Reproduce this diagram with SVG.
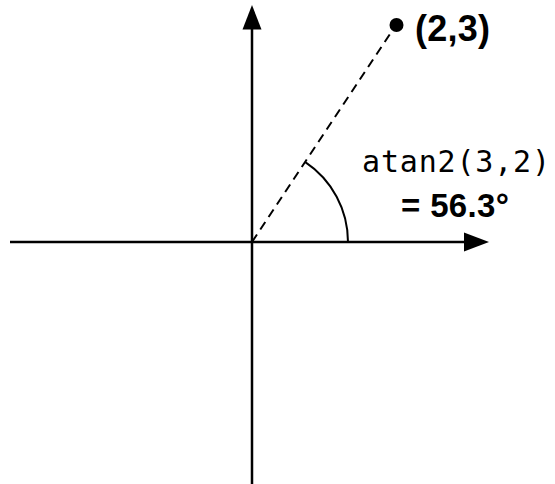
<svg xmlns="http://www.w3.org/2000/svg" width="555" height="484" viewBox="0 0 555 484">
<style>
.axis{stroke:#000;stroke-width:2.5;fill:none}
.ray{stroke:#000;stroke-width:2;stroke-dasharray:9 6;fill:none}
.arc{stroke:#000;stroke-width:2;fill:none}
.head{fill:#000}
.mono{font-family:"DejaVu Sans Mono","Liberation Mono",monospace;fill:#000}
.bold{font-family:"Liberation Sans",Arial,sans-serif;font-weight:bold;fill:#000}
</style>
<rect width="555" height="484" fill="#fff"/>
<g id="connectors">
<line class="axis" x1="10" y1="242" x2="466" y2="242"/>
<polygon class="head" points="489,242 464,232.5 464,251.5"/>
<line class="axis" x1="252" y1="484" x2="252" y2="27"/>
<polygon class="head" points="252,5 242.5,29.5 261.5,29.5"/>
<line class="ray" x1="252" y1="242" x2="396" y2="25"/>
<path class="arc" d="M348,242 A96,96 0 0 0 305.3,162.1"/>
</g>
<g id="point">
<circle cx="396.5" cy="25" r="7" fill="#000"/>
<text class="bold" x="415" y="41" font-size="36" textLength="75">(2,3)</text>
</g>
<g id="angle-label">
<text class="mono" x="362" y="172" font-size="30" textLength="188">atan2(3,2)</text>
<text class="bold" x="401" y="217" font-size="33" textLength="108">= 56.3°</text>
</g>
</svg>
